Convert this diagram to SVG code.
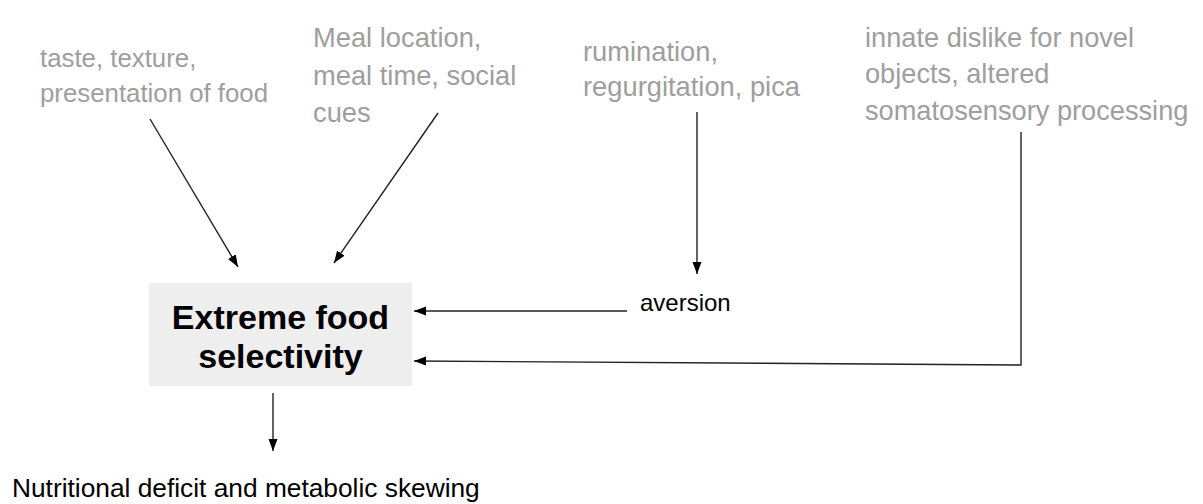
<svg xmlns="http://www.w3.org/2000/svg" width="1203" height="504" viewBox="0 0 1203 504">
<style>
.g{font-family:"Liberation Sans",Arial,sans-serif;fill:#9e9e9e}
.k{font-family:"Liberation Sans",Arial,sans-serif;fill:#000}
.c{fill:none;stroke:#222;stroke-width:1.4}
</style>
<defs>
<marker id="ah" markerUnits="userSpaceOnUse" markerWidth="12" markerHeight="10" viewBox="0 0 12 10" refX="12" refY="5" orient="auto">
<path d="M0,0.5 L12,5 L0,9.5 Z" fill="#000"/>
</marker>
</defs>
<rect width="1203" height="504" fill="#fff"/>
<g id="node-taste">
<text class="g" font-size="25.8"><tspan x="40" y="67">taste, texture,</tspan><tspan x="40" y="102">presentation of food</tspan></text>
</g>
<g id="node-meal">
<text class="g" font-size="27.3"><tspan x="313" y="47">Meal location,</tspan><tspan x="313" y="85">meal time, social</tspan><tspan x="313" y="122">cues</tspan></text>
</g>
<g id="node-rumination">
<text class="g" font-size="27.3"><tspan x="583" y="61">rumination,</tspan><tspan x="583" y="96">regurgitation, pica</tspan></text>
</g>
<g id="node-innate">
<text class="g" font-size="27.2"><tspan x="865" y="47">innate dislike for novel</tspan><tspan x="865" y="83">objects, altered</tspan><tspan x="865" y="120">somatosensory processing</tspan></text>
</g>
<g id="node-efs">
<rect x="149" y="283" width="263" height="103" fill="#eeeeee"/>
<text class="k" font-size="34" font-weight="bold" text-anchor="middle"><tspan x="280.5" y="329">Extreme food</tspan><tspan x="280.5" y="368">selectivity</tspan></text>
</g>
<g id="node-aversion">
<text class="k" font-size="24" x="640" y="311">aversion</text>
</g>
<g id="node-nutrition">
<text class="k" font-size="26.3" x="12" y="497">Nutritional deficit and metabolic skewing</text>
</g>
<g id="connectors">
<line class="c" x1="150" y1="119" x2="238" y2="267" marker-end="url(#ah)"/>
<line class="c" x1="438" y1="113" x2="334" y2="263" marker-end="url(#ah)"/>
<line class="c" x1="697" y1="112" x2="697" y2="274" marker-end="url(#ah)"/>
<line class="c" x1="627" y1="311" x2="414" y2="311" marker-end="url(#ah)"/>
<polyline class="c" points="1021,132 1021,365 414,361" marker-end="url(#ah)"/>
<line class="c" x1="273" y1="393" x2="273" y2="451" marker-end="url(#ah)"/>
</g>
</svg>
